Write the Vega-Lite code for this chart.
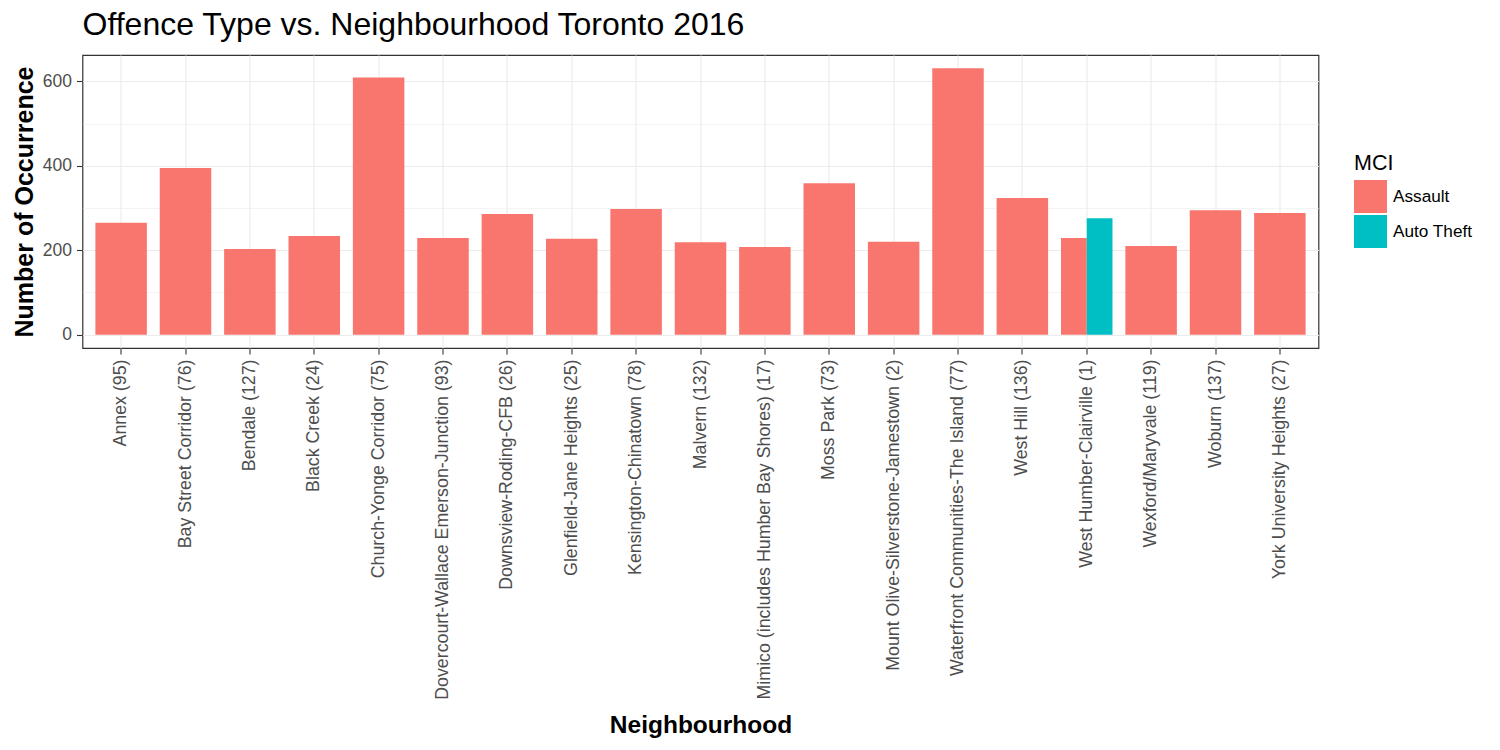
{
  "$schema": "https://vega.github.io/schema/vega-lite/v6.json",
  "autosize": "none",
  "width": 1236,
  "height": 293,
  "padding": {"left": 82.5, "top": 55, "right": 181.5, "bottom": 402},
  "background": "white",
  "title": {
    "text": "Offence Type vs. Neighbourhood Toronto 2016",
    "anchor": "start",
    "frame": "group",
    "fontSize": 32,
    "fontWeight": "normal",
    "color": "black",
    "offset": 13
  },
  "data": {
    "values": [
      {"Neighbourhood": "Annex (95)", "MCI": "Assault", "Count": 265},
      {"Neighbourhood": "Bay Street Corridor (76)", "MCI": "Assault", "Count": 395},
      {"Neighbourhood": "Bendale (127)", "MCI": "Assault", "Count": 203},
      {"Neighbourhood": "Black Creek (24)", "MCI": "Assault", "Count": 234},
      {"Neighbourhood": "Church-Yonge Corridor (75)", "MCI": "Assault", "Count": 609},
      {"Neighbourhood": "Dovercourt-Wallace Emerson-Junction (93)", "MCI": "Assault", "Count": 229},
      {"Neighbourhood": "Downsview-Roding-CFB (26)", "MCI": "Assault", "Count": 286},
      {"Neighbourhood": "Glenfield-Jane Heights (25)", "MCI": "Assault", "Count": 227},
      {"Neighbourhood": "Kensington-Chinatown (78)", "MCI": "Assault", "Count": 298},
      {"Neighbourhood": "Malvern (132)", "MCI": "Assault", "Count": 219},
      {"Neighbourhood": "Mimico (includes Humber Bay Shores) (17)", "MCI": "Assault", "Count": 208},
      {"Neighbourhood": "Moss Park (73)", "MCI": "Assault", "Count": 359},
      {"Neighbourhood": "Mount Olive-Silverstone-Jamestown (2)", "MCI": "Assault", "Count": 220},
      {"Neighbourhood": "Waterfront Communities-The Island (77)", "MCI": "Assault", "Count": 631},
      {"Neighbourhood": "West Hill (136)", "MCI": "Assault", "Count": 324},
      {"Neighbourhood": "West Humber-Clairville (1)", "MCI": "Assault", "Count": 229},
      {"Neighbourhood": "West Humber-Clairville (1)", "MCI": "Auto Theft", "Count": 276},
      {"Neighbourhood": "Wexford/Maryvale (119)", "MCI": "Assault", "Count": 210},
      {"Neighbourhood": "Woburn (137)", "MCI": "Assault", "Count": 295},
      {"Neighbourhood": "York University Heights (27)", "MCI": "Assault", "Count": 288}
    ]
  },
  "encoding": {
    "x": {
      "field": "Neighbourhood",
      "type": "nominal",
      "sort": "ascending",
      "scale": {"paddingInner": 0.2, "paddingOuter": 0.2},
      "axis": {
        "title": "Neighbourhood",
        "labelAngle": -90,
        "labelAlign": "right",
        "labelBaseline": "middle",
        "labelFontSize": 17.8,
        "labelColor": "#4d4d4d",
        "labelPadding": 5,
        "labelLimit": 0,
        "tickSize": 6,
        "tickColor": "#333333",
        "tickWidth": 1.1,
        "domain": false,
        "grid": true,
        "gridColor": "#ebebeb",
        "gridWidth": 1.1,
        "bandPosition": 0.5,
        "titleFontSize": 24.5,
        "titleFontWeight": "bold",
        "titleColor": "black",
        "titleBaseline": "alphabetic",
        "titleY": 384.5
      }
    },
    "y": {
      "field": "Count",
      "type": "quantitative",
      "scale": {"domain": [-31.5, 662.5], "nice": false, "zero": false},
      "axis": {
        "title": "Number of Occurrence",
        "values": [0, 100, 200, 300, 400, 500, 600],
        "labelExpr": "datum.value % 200 === 0 ? datum.label : ''",
        "labelFontSize": 17.5,
        "labelColor": "#4d4d4d",
        "labelPadding": 5,
        "tickSize": 6,
        "tickColor": "#333333",
        "tickWidth": 1.1,
        "tickOpacity": {"condition": {"test": "datum.value % 200 === 0", "value": 1}, "value": 0},
        "domain": false,
        "grid": true,
        "gridColor": "#ebebeb",
        "gridWidth": {"condition": {"test": "datum.value % 200 === 0", "value": 1.2}, "value": 0.6},
        "titleFontSize": 25,
        "titleFontWeight": "bold",
        "titleColor": "black",
        "titleBaseline": "alphabetic",
        "titleX": -50
      }
    },
    "y2": {"datum": 0},
    "color": {
      "field": "MCI",
      "type": "nominal",
      "scale": {"domain": ["Assault", "Auto Theft"], "range": ["#F8766D", "#00BFC4"]},
      "legend": {
        "title": "MCI",
        "orient": "none",
        "legendX": 1271.5,
        "legendY": 97.5,
        "titleFontSize": 21.5,
        "titleFontWeight": "normal",
        "titleColor": "black",
        "titlePadding": 6,
        "labelFontSize": 17.2,
        "labelColor": "black",
        "labelOffset": 6,
        "symbolType": "square",
        "symbolSize": 1089,
        "symbolStrokeWidth": 0,
        "symbolOpacity": 1,
        "rowPadding": 2,
        "padding": 0
      }
    }
  },
  "layer": [
    {
      "transform": [{"filter": "datum.Neighbourhood !== 'West Humber-Clairville (1)'"}],
      "mark": {"type": "bar", "opacity": 1}
    },
    {
      "transform": [{"filter": "datum.Neighbourhood === 'West Humber-Clairville (1)'"}],
      "mark": {"type": "bar", "opacity": 1},
      "encoding": {
        "xOffset": {
          "field": "MCI",
          "type": "nominal",
          "scale": {"domain": ["Assault", "Auto Theft"], "paddingInner": 0, "paddingOuter": 0}
        }
      }
    }
  ],
  "config": {
    "font": "Liberation Sans",
    "view": {"stroke": "#333333", "strokeWidth": 1.2}
  }
}
